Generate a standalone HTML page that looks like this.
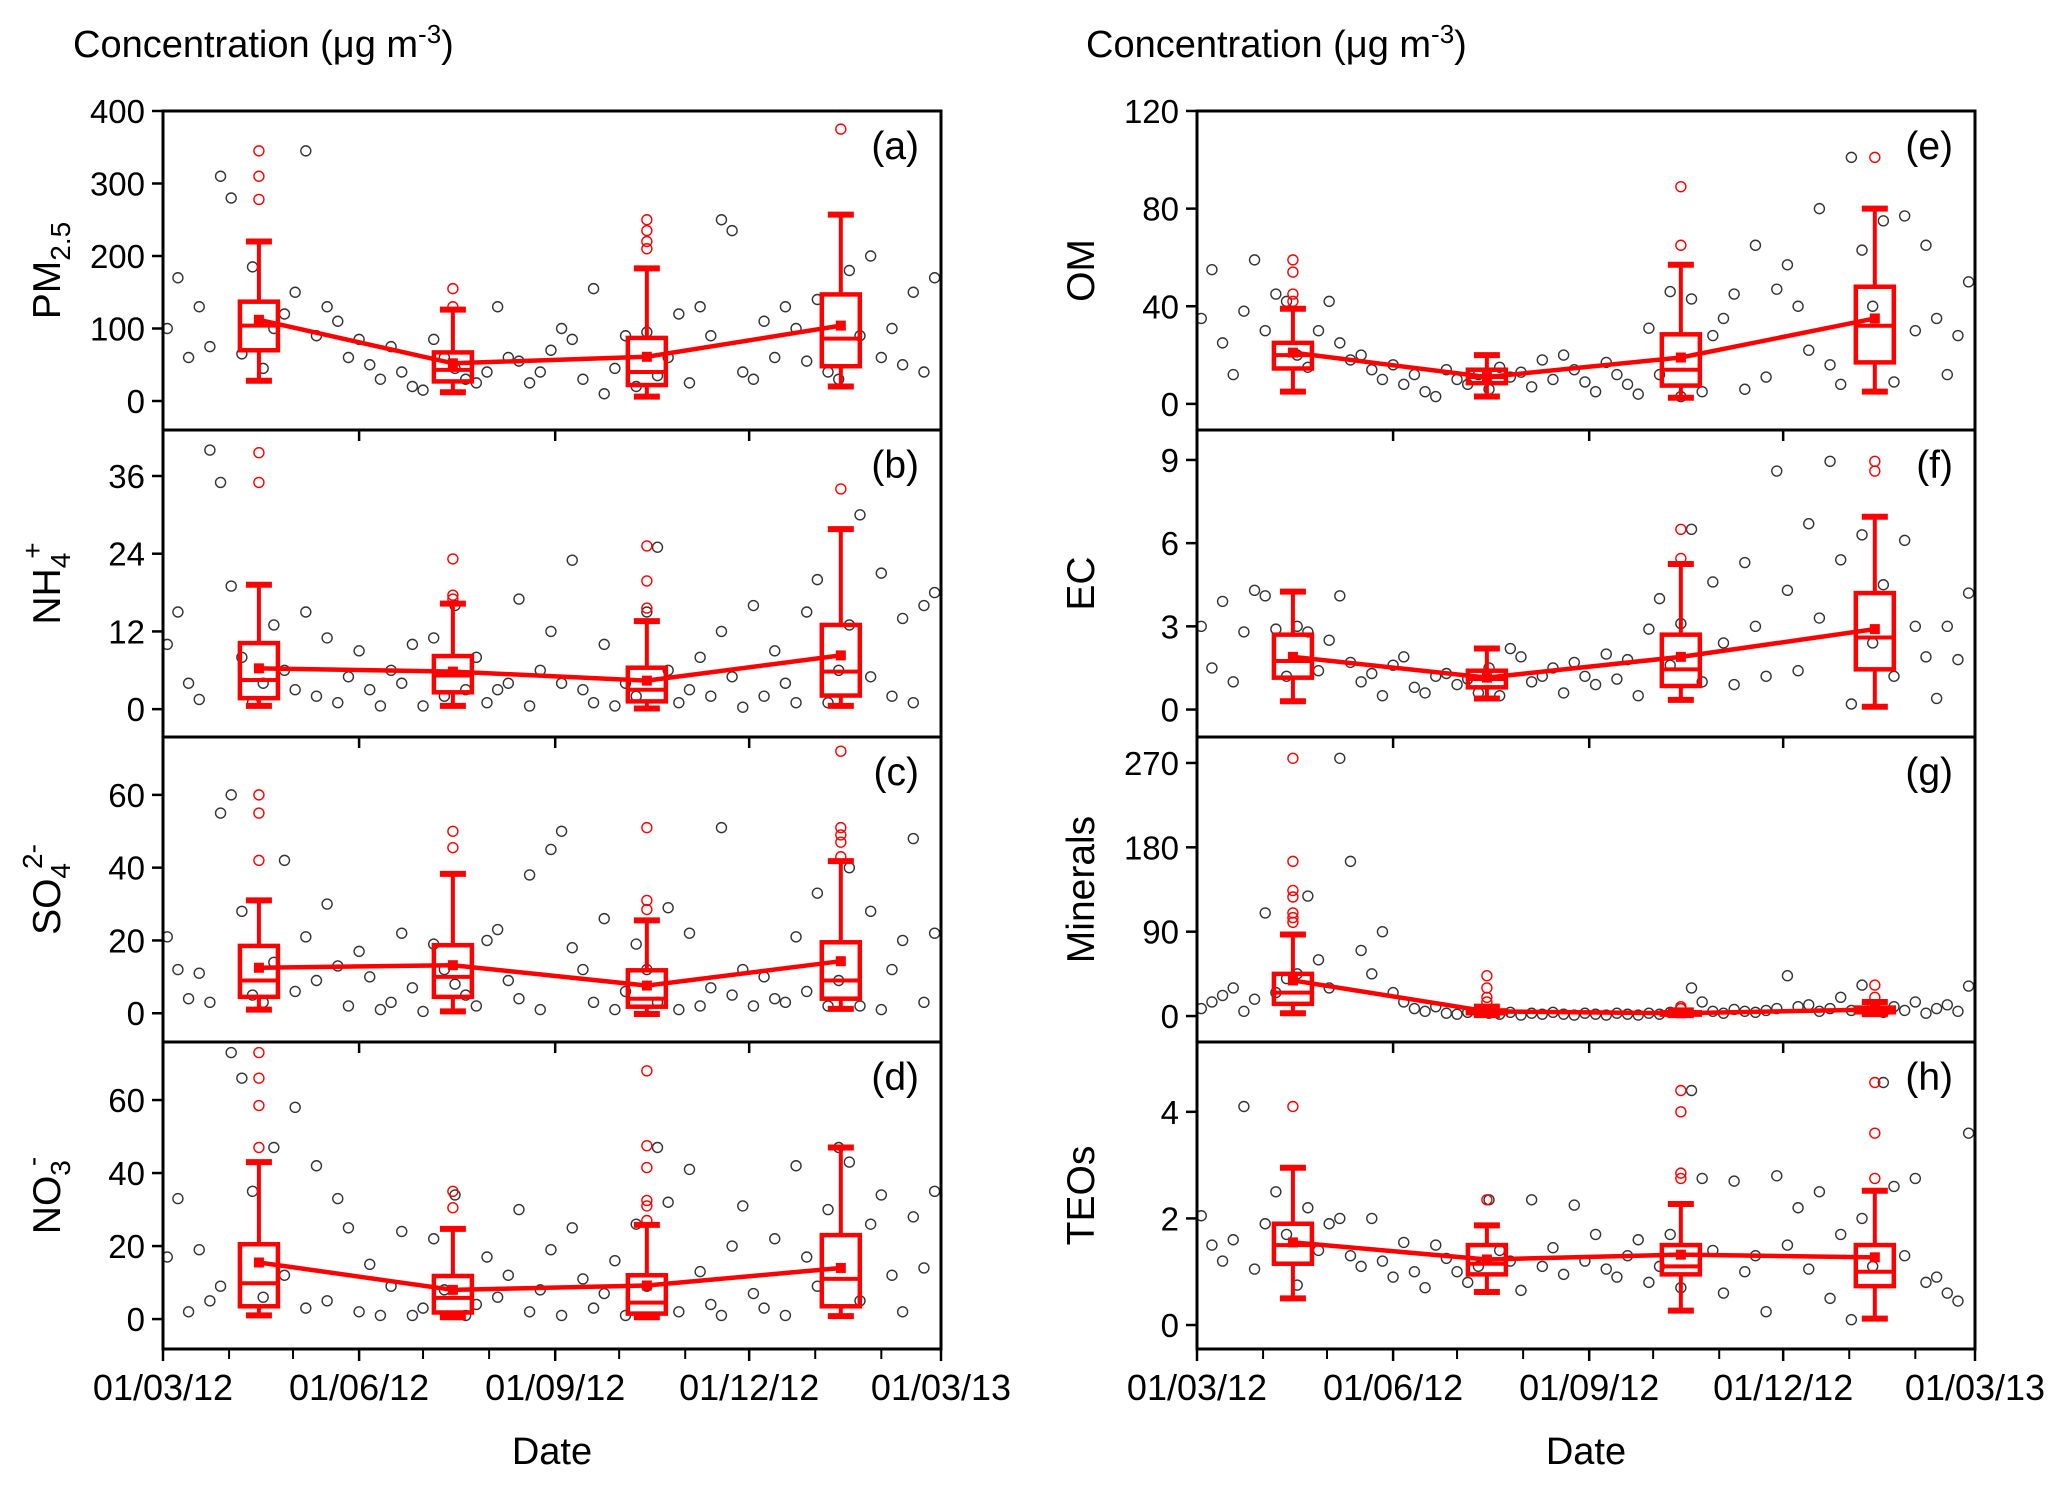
<!DOCTYPE html>
<html><head><meta charset="utf-8"><style>
html,body{margin:0;padding:0;background:#fff}
svg{display:block;font-family:"Liberation Sans",Arial,sans-serif}
</style></head><body>
<svg id="chart" width="2067" height="1487" viewBox="0 0 2067 1487" xmlns="http://www.w3.org/2000/svg">
<text x="73" y="57" font-size="38">Concentration (μg m<tspan dy="-14" font-size="26">-3</tspan><tspan dy="14">)</tspan></text>
<text x="1086" y="57" font-size="38">Concentration (μg m<tspan dy="-14" font-size="26">-3</tspan><tspan dy="14">)</tspan></text>
<text x="552" y="1464" font-size="38" text-anchor="middle">Date</text>
<text x="1586" y="1464" font-size="38" text-anchor="middle">Date</text>
</svg>
<script>
const NS="http://www.w3.org/2000/svg";
const svg=document.getElementById('chart');
const days=[2,7,12,17,22,27,32,37,42,47,52,57,62,67,72,77,82,87,92,97,102,107,112,117,122,127,132,137,142,147,152,157,162,167,172,177,182,187,192,197,202,207,212,217,222,227,232,237,242,247,252,257,262,267,272,277,282,287,292,297,302,307,312,317,322,327,332,337,342,347,352,357,362];
const seasonDays=[45,136,227,318];
const xTickLabels=["01/03/12","01/06/12","01/09/12","01/12/12","01/03/13"];
const xTickDays=[0,92,184,275,365];
const monthDays=[31,61,122,153,214,245,306,337];

const pmVals=[100,170,60,130,75,310,280,65,185,45,100,120,150,345,90,130,110,60,85,50,30,75,40,20,15,85,60,45,30,25,40,130,60,55,25,40,70,100,85,30,155,10,45,90,20,95,35,60,120,25,130,90,250,235,40,30,110,60,130,100,55,140,40,30,180,90,200,60,100,50,150,40,170];
const nh4Vals=[10,15,4,1.5,40,35,19,8,1,4,13,6,3,15,2,11,1,5,9,3,0.5,6,4,10,0.5,11,2,16,3,8,1,3,4,17,0.5,6,12,4,23,3,1,10,0.5,4,2,15,25,6,1,3,8,2,12,5,0.3,16,2,9,4,1,15,20,1,6,13,30,5,21,2,14,1,16,18];
const so4Vals=[21,12,4,11,3,55,60,28,5,3,14,42,6,21,9,30,13,2,17,10,1,3,22,7,0.5,19,12,8,5,2,20,23,9,4,38,1,45,50,18,12,3,26,1,6,19,12,3,29,1,22,2,7,51,5,12,2,10,4,3,21,6,33,2,9,40,2,28,1,12,20,48,3,22];
const no3Vals=[17,33,2,19,5,9,73,66,35,6,47,12,58,3,42,5,33,25,2,15,1,9,24,1,3,22,8,34,1,4,17,6,12,30,2,8,19,1,25,11,3,7,16,1,26,9,47,32,2,41,13,4,1,20,31,7,3,22,1,42,17,9,30,47,43,5,26,34,12,2,28,14,35];
const omVals=[35,55,25,12,38,59,30,45,42,20,15,30,42,25,18,20,14,10,16,8,12,5,3,14,10,8,12,6,15,11,13,7,18,10,20,14,9,5,17,12,8,4,31,12,46,3,43,5,28,35,45,6,65,11,47,57,40,22,80,16,8,101,63,40,75,9,77,30,65,35,12,28,50];
const ecVals=[3,1.5,3.9,1,2.8,4.3,4.1,2.9,1.2,3,2.8,1.4,2.5,4.1,1.7,1,1.3,0.5,1.6,1.9,0.8,0.6,1.2,1.3,0.9,1.1,0.6,1.5,0.5,2.2,1.9,1,1.2,1.5,0.6,1.7,1.2,0.9,2,1.1,1.8,0.5,2.9,4,1.6,3.1,6.5,1,4.6,2.4,0.9,5.3,3,1.2,8.6,4.3,1.4,6.7,3.3,8.95,5.4,0.2,6.3,2.4,4.5,1.2,6.1,3,1.9,0.4,3,1.8,4.2];
const minVals=[8,15,22,30,5,18,110,25,40,45,128,60,30,275,165,70,45,90,25,15,8,5,10,3,2,4,5,3,2,4,1,3,2,4,2,1,3,2,1,3,2,1,3,2,4,8,30,15,5,3,7,5,4,6,8,43,10,12,5,8,20,6,33,12,4,10,6,15,3,8,12,5,32];
const teoVals=[2.05,1.5,1.2,1.6,4.1,1.05,1.9,2.5,1.7,0.75,2.2,1.4,1.9,2.0,1.3,1.1,2.0,1.2,0.9,1.55,1.0,0.7,1.5,1.25,1.0,0.8,1.1,2.35,1.4,1.2,0.65,2.35,1.1,1.45,0.95,2.25,1.2,1.7,1.05,0.9,1.3,1.6,0.8,1.1,1.7,0.7,4.4,2.75,1.4,0.6,2.7,1.0,1.3,0.25,2.8,1.5,2.2,1.05,2.5,0.5,1.7,0.1,2.0,1.1,4.55,2.6,1.3,2.75,0.8,0.9,0.6,0.45,3.6];

// box stats per season: [whiskerLow, q1, median, q3, whiskerHigh, mean]
const pmBox=[[28,70,104,137,220,112],[12,27,43,67,126,52],[6,22,40,87,183,61],[20,48,86,147,257,104]];
const pmOut=[[278,310,345],[130,155],[210,220,235,250],[375]];
const nh4Box=[[0.5,1.7,4.5,10.2,19.2,6.3],[0.5,2.6,5.2,8.2,16.3,5.8],[0.1,1.2,3,6.4,13.6,4.4],[0.5,2.1,5.8,13,27.8,8.3]];
const nh4Out=[[35,39.6],[17,17.6,23.2],[15.6,19.8,25.2],[34]];
const so4Box=[[1,4.5,9,18.5,31,12.5],[0.5,4.5,10,18.7,38.3,13.2],[-0.2,1.8,4,11.8,25.5,7.6],[1.2,4,9,19.5,41.8,14.3]];
const so4Out=[[42,55,60],[45.5,50],[28.5,31,51],[43,47,49,51,72]];
const no3Box=[[1,3.5,9.8,20.5,43,15.5],[0.5,1.8,5.8,11.8,24.7,8],[0.5,1.5,4.5,12,25.8,9.2],[0.8,3.5,11,23,47,14]];
const no3Out=[[47,58.5,66,73],[30.5,35],[27,31,32.5,41.5,47.5,68],[]];
const omBox=[[5,14.5,20,25,39,21],[3,8.5,11,14,20,11],[2.5,7.5,14,28.5,57,19],[5,17,32,48,80,35]];
const omOut=[[42,45,54,59],[],[65,89],[101]];
const ecBox=[[0.3,1.15,1.75,2.7,4.25,1.9],[0.4,0.8,1.1,1.4,2.2,1.15],[0.35,0.85,1.45,2.7,5.25,1.9],[0.1,1.45,2.6,4.2,6.95,2.9]];
const ecOut=[[],[],[5.45,6.5],[8.6,8.95]];
const minBox=[[3,13,25,45,87,38],[1,3,4,6,10,5],[1,1.5,2.5,4,6,3],[2,4,6,9,15,7]];
const minOut=[[100,105,110,127,134,165,275],[15,20,30,43],[8,10],[20,33]];
const teoBox=[[0.5,1.15,1.5,1.9,2.95,1.55],[0.62,0.95,1.15,1.5,1.87,1.23],[0.27,0.95,1.1,1.5,2.27,1.32],[0.12,0.73,1.0,1.5,2.52,1.27]];
const teoOut=[[4.1],[2.35],[2.75,2.85,4.0,4.4],[2.75,3.6,4.55]];

const panels=[
 {id:'a',side:0,y0:111,y1:430,min:-40,max:400,ticks:[0,100,200,300,400],vals:pmVals,box:pmBox,out:pmOut,title:['PM','2.5','sub']},
 {id:'b',side:0,y0:430,y1:737,min:-4.3,max:43.1,ticks:[0,12,24,36],vals:nh4Vals,box:nh4Box,out:nh4Out,title:['NH','4','+']},
 {id:'c',side:0,y0:737,y1:1042,min:-7.9,max:75.9,ticks:[0,20,40,60],vals:so4Vals,box:so4Box,out:so4Out,title:['SO','4','2-']},
 {id:'d',side:0,y0:1042,y1:1349,min:-8.2,max:75.9,ticks:[0,20,40,60],vals:no3Vals,box:no3Box,out:no3Out,title:['NO','3','-']},
 {id:'e',side:1,y0:111,y1:430,min:-10.7,max:120,ticks:[0,40,80,120],vals:omVals,box:omBox,out:omOut,title:['OM']},
 {id:'f',side:1,y0:430,y1:737,min:-0.99,max:10.08,ticks:[0,3,6,9],vals:ecVals,box:ecBox,out:ecOut,title:['EC']},
 {id:'g',side:1,y0:737,y1:1042,min:-27.7,max:297.7,ticks:[0,90,180,270],vals:minVals,box:minBox,out:minOut,title:['Minerals']},
 {id:'h',side:1,y0:1042,y1:1349,min:-0.45,max:5.31,ticks:[0,2,4],vals:teoVals,box:teoBox,out:teoOut,title:['TEOs']}
];
const sides=[{x0:163,x1:941,tx:60},{x0:1197,x1:1975,tx:1094}];
const RED='#ff0000';

function el(tag,attrs,parent){const e=document.createElementNS(NS,tag);for(const k in attrs)e.setAttribute(k,attrs[k]);(parent||svg).appendChild(e);return e;}

panels.forEach(p=>{
  const s=sides[p.side];
  const xs=d=>s.x0+d/365*(s.x1-s.x0);
  const ys=v=>p.y1-(v-p.min)/(p.max-p.min)*(p.y1-p.y0);
  const g=el('g',{});
  
  
  p.vals.forEach((v,i)=>{
    const c=el('circle',{cx:xs(days[i]),cy:ys(v),r:5,fill:'none',stroke:'#333',"stroke-width":1.4},g);
    
    
  });
  p.box.forEach((b,i)=>{
    const cx=xs(seasonDays[i]);
    const bg=el('g',{},g);
    
    
    el('line',{x1:cx,x2:cx,y1:ys(b[0]),y2:ys(b[1]),stroke:RED,"stroke-width":4},bg);
    el('line',{x1:cx,x2:cx,y1:ys(b[3]),y2:ys(b[4]),stroke:RED,"stroke-width":4},bg);
    el('line',{x1:cx-13,x2:cx+13,y1:ys(b[0]),y2:ys(b[0]),stroke:RED,"stroke-width":6},bg);
    el('line',{x1:cx-13,x2:cx+13,y1:ys(b[4]),y2:ys(b[4]),stroke:RED,"stroke-width":6},bg);
    el('rect',{x:cx-19,y:ys(b[3]),width:38,height:Math.max(1,ys(b[1])-ys(b[3])),fill:'none',stroke:RED,"stroke-width":4.5},bg);
    el('line',{x1:cx-19,x2:cx+19,y1:ys(b[2]),y2:ys(b[2]),stroke:RED,"stroke-width":4},bg);
    p.out[i].forEach(o=>{
      const c=el('circle',{cx:cx,cy:ys(o),r:5,fill:'none',stroke:RED,"stroke-width":1.4},bg);
      
      
    });
  });
  const pts=p.box.map((b,i)=>xs(seasonDays[i])+','+ys(b[5])).join(' ');
  const ml=el('polyline',{points:pts,fill:'none',stroke:RED,"stroke-width":4.5},g);
  
  
  p.box.forEach((b,i)=>{
    const m=el('rect',{x:xs(seasonDays[i])-5,y:ys(b[5])-5,width:10,height:10,fill:RED},g);
    
    
  });
  const fr=el('rect',{x:s.x0,y:p.y0,width:s.x1-s.x0,height:p.y1-p.y0,fill:'none',stroke:'#000',"stroke-width":3},g);
  
  
  p.ticks.forEach(t=>{
    const y=ys(t);
    el('line',{x1:s.x0-11,x2:s.x0,y1:y,y2:y,stroke:'#000',"stroke-width":2.5},g);
    const tl=el('text',{x:s.x0-18,y:y+12,"font-size":33,"text-anchor":"end"},g);
    tl.textContent=t;
    
    
  });
  if(p.y0>111){
    xTickDays.slice(1,4).forEach(d=>el('line',{x1:xs(d),x2:xs(d),y1:p.y0,y2:p.y0+11,stroke:'#000',"stroke-width":2.5},g));
  }
  if(p.y1>=1349){
    xTickDays.forEach((d,i)=>{
      el('line',{x1:xs(d),x2:xs(d),y1:p.y1,y2:p.y1+12,stroke:'#000',"stroke-width":2.5},g);
      const tl=el('text',{x:xs(d),y:1400,"font-size":36,"text-anchor":"middle"},g);
      tl.textContent=xTickLabels[i];
      
      
    });
    monthDays.forEach(d=>el('line',{x1:xs(d),x2:xs(d),y1:p.y1,y2:p.y1+10,stroke:'#000',"stroke-width":2},g));
  }
  const pl=el('text',{x:s.x1-22,y:p.y0+48,"font-size":39,"text-anchor":"end"},g);
  pl.textContent='('+p.id+')';
  
  
  const cy=(p.y0+p.y1)/2;
  const yt=el('text',{x:0,y:0,"font-size":39,"text-anchor":"middle",transform:`translate(${s.tx},${cy}) rotate(-90)`},g);
  
  
  if(p.title.length===1){yt.textContent=p.title[0];}
  else{
    const a=document.createElementNS(NS,'tspan');a.textContent=p.title[0];yt.appendChild(a);
    const b=document.createElementNS(NS,'tspan');b.setAttribute('dy','10');b.setAttribute('font-size','28');b.textContent=p.title[1];yt.appendChild(b);
    if(p.title[2]!=='sub'){
      const c=document.createElementNS(NS,'tspan');c.setAttribute('dy','-28');c.setAttribute('font-size','28');c.setAttribute('dx','-6');c.textContent=p.title[2];yt.appendChild(c);
    }
  }
});
</script>
</body></html>
